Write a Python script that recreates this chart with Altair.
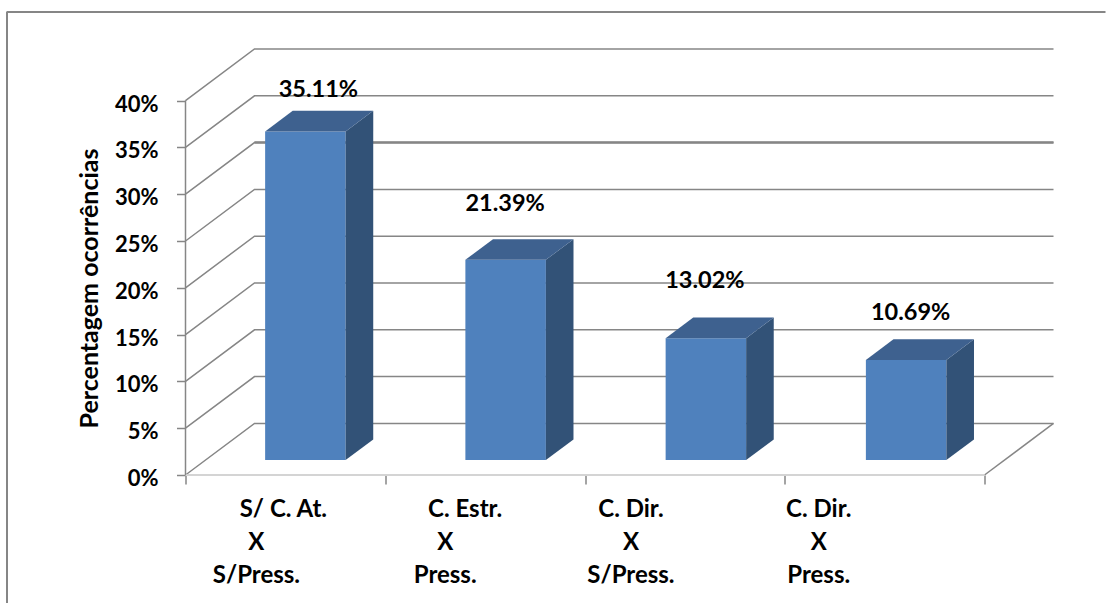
import altair as alt
import pandas as pd

# Chart values
categories = ["S/ C. At.\nX\nS/Press.", "C. Estr.\nX\nPress.", "C. Dir.\nX\nS/Press.", "C. Dir.\nX\nPress."]
values = [35.11, 21.39, 13.02, 10.69]
tick_values = [0, 5, 10, 15, 20, 25, 30, 35, 40]
y_title = "Percentagem ocorrências"

# Oblique projection of the 3D box, in axis units
DEPTH_X = 0.3454
DEPTH_Y = 5.51
BAR_FRONT, BAR_BACK = 0.29, 0.69
BAR_WIDTH = 0.403
BAR_STEP = 1.0025

FONT = "Lato"
GREY = "#868686"
FACE, SIDE, TOP = "#4F81BD", "#325277", "#3E618F"


def px(cat, d):
    return cat + d * DEPTH_X


def py(v, d):
    return v + d * DEPTH_Y


xs = alt.Scale(domain=[0, 4 + DEPTH_X], nice=False, zero=False)
ys = alt.Scale(domain=[0, 40 + DEPTH_Y], nice=False, zero=False)

# Every layer shares the same axis definitions
X = alt.X(
    "x:Q",
    scale=xs,
    title=None,
    axis=alt.Axis(
        values=[0, 1, 2, 3, 4], labels=False, domain=False, grid=False,
        tickColor=GREY, tickSize=9, tickWidth=1.5,
    ),
)
Y = alt.Y(
    "y:Q",
    scale=ys,
    title=y_title,
    axis=alt.Axis(
        values=tick_values, labelExpr="datum.value + '%'", domain=False, grid=False,
        tickColor=GREY, tickSize=9, tickWidth=1.5,
        labelFont=FONT, labelFontWeight="bold", labelFontSize=22, labelColor="#000000",
        labelPadding=18.5, labelOffset=3.5, titleFont=FONT, titleFontWeight="bold",
        titleFontSize=25, titleColor="#000000", titleX=-96, titleY=239,
        titleAngle=270, titleAlign="center", titleBaseline="middle",
    ),
)

# Walls and floor
wall_rows = []
for v in tick_values:
    wall_rows += [
        {"k": v, "o": 0, "x": 0, "y": v},
        {"k": v, "o": 1, "x": px(0, 1), "y": py(v, 1)},
        {"k": v, "o": 2, "x": px(4, 1), "y": py(v, 1)},
    ]
wall_rows += [
    {"k": "floor", "o": 0, "x": 4, "y": 0},
    {"k": "floor", "o": 1, "x": px(4, 1), "y": py(0, 1)},
]
walls = (
    alt.Chart(pd.DataFrame(wall_rows))
    .mark_line(color=GREY, strokeWidth=1.5)
    .encode(x=X, y=Y, detail="k:N", order="o:Q")
)
heavy = (
    alt.Chart(pd.DataFrame([{"x": px(0, 1), "y": py(30, 1)}, {"x": px(4, 1), "y": py(30, 1)}]))
    .mark_line(color=GREY, strokeWidth=2.5)
    .encode(x=X, y=Y)
)
floor_front = (
    alt.Chart(pd.DataFrame({"x": [0, 4], "y": [0, 0]}))
    .mark_line(color="#D4D4D4", strokeWidth=2)
    .encode(x=X, y=Y)
)
y_line = (
    alt.Chart(pd.DataFrame({"x": [0], "y": [0], "y2": [40]}))
    .mark_rule(color=GREY, strokeWidth=1.5)
    .encode(x=X, y=Y, y2="y2:Q")
)

# Bars: front face, side face and top face
front_rows, side_rows, top_rows = [], [], []
for i, v in enumerate(values):
    l = px(i * BAR_STEP + 0.5 - BAR_WIDTH / 2, BAR_FRONT)
    r = l + BAR_WIDTH
    shift = (BAR_BACK - BAR_FRONT) * DEPTH_X
    front_rows.append({"x": l, "x2": r, "y": py(0, BAR_FRONT), "y2": py(v, BAR_FRONT)})
    side_rows += [
        {"b": i, "x": r, "y": py(0, BAR_FRONT), "y2": py(v, BAR_FRONT)},
        {"b": i, "x": r + shift, "y": py(0, BAR_BACK), "y2": py(v, BAR_BACK)},
    ]
    top_rows += [
        {"b": i, "x": l, "y": py(v, BAR_FRONT), "y2": py(v, BAR_FRONT)},
        {"b": i, "x": l + shift, "y": py(v, BAR_FRONT), "y2": py(v, BAR_BACK)},
        {"b": i, "x": r, "y": py(v, BAR_FRONT), "y2": py(v, BAR_BACK)},
        {"b": i, "x": r + shift, "y": py(v, BAR_BACK), "y2": py(v, BAR_BACK)},
    ]
fronts = (
    alt.Chart(pd.DataFrame(front_rows))
    .mark_rect(color=FACE)
    .encode(x=X, x2="x2:Q", y=Y, y2="y2:Q")
)
sides = (
    alt.Chart(pd.DataFrame(side_rows))
    .mark_area(color=SIDE)
    .encode(x=X, y=Y, y2="y2:Q", detail="b:N")
)
tops = (
    alt.Chart(pd.DataFrame(top_rows))
    .mark_area(color=TOP)
    .encode(x=X, y=Y, y2="y2:Q", detail="b:N")
)

# Value labels, each placed by hand above its bar
label_dx = [0.065, 0.0, 0.0, 0.03]
label_dy = [4.4, 6.0, 6.1, 5.0]
value_labels = (
    alt.Chart(
        pd.DataFrame(
            {
                "x": [px(i + 0.5, BAR_FRONT) + dx for i, dx in enumerate(label_dx)],
                "y": [py(v, BAR_FRONT) + dy for v, dy in zip(values, label_dy)],
                "t": [f"{v:.2f}%" for v in values],
            }
        )
    )
    .mark_text(font=FONT, fontWeight="bold", fontSize=23.5, color="#000000", baseline="middle")
    .encode(x=X, y=Y, text="t:N")
)

# Category labels: three stacked lines under each slot
line_one_shift = [-0.01, -0.10, -0.27, -0.33]
line_rest_shift = [-0.145, -0.20, -0.27, -0.33]
cat_rows = []
for i, cat in enumerate(categories):
    for n, part in enumerate(cat.split("\n")):
        shift = line_one_shift[i] if n == 0 else line_rest_shift[i]
        cat_rows.append({"x": i + 0.5 + shift, "t": part, "n": n})
cat_charts = []
for n, ypx in enumerate([461, 494, 527]):
    cat_charts.append(
        alt.Chart(pd.DataFrame([r for r in cat_rows if r["n"] == n]))
        .mark_text(font=FONT, fontWeight="bold", fontSize=24, color="#000000", baseline="middle")
        .encode(x=X, y=alt.value(ypx), text="t:N")
    )

# Outer chart frame: left and top edges
frame_left = alt.Chart(pd.DataFrame({"a": [0]})).mark_rule(color=GREY, strokeWidth=2).encode(
    x=alt.value(-178.5), y=alt.value(-37), y2=alt.value(555)
)
frame_top = alt.Chart(pd.DataFrame({"a": [0]})).mark_rule(color=GREY, strokeWidth=2).encode(
    x=alt.value(-179), x2=alt.value(920), y=alt.value(-37)
)

chart = (
    alt.layer(
        frame_left, frame_top, walls, heavy, floor_front, y_line,
        fronts, sides, tops, value_labels, *cat_charts,
    )
    .properties(
        width=868,
        height=426,
        background="#FFFFFF",
        padding={"left": 185.5, "top": 49, "right": 52, "bottom": 128},
        autosize=alt.AutoSizeParams(type="none"),
    )
    .configure_view(stroke=None)
)

chart.save("out.html", embed_options={"renderer": "svg", "actions": False})
